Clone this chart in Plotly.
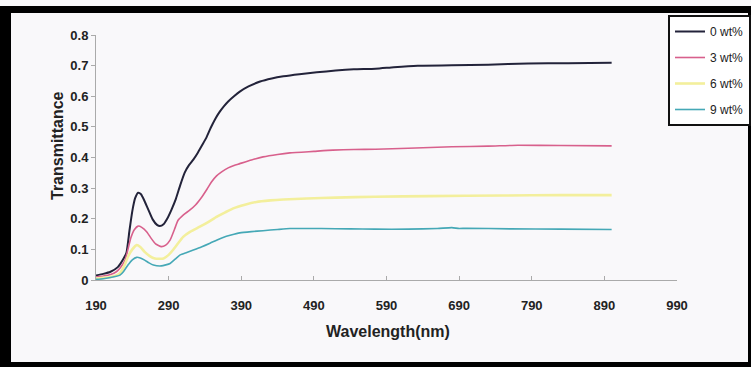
import plotly.graph_objects as go

# ---------------- data ----------------
wl_0 = [190, 200, 210, 220, 228, 232, 236, 240, 244, 248, 252, 256, 262, 268, 274, 278, 283, 288, 294, 300,
        306, 312, 318, 324, 330, 336, 342, 348, 354, 360, 366, 372, 380, 388, 400, 416, 432, 448, 470, 494,
        520, 545, 575, 600, 633, 680, 730, 785, 840, 900]
t_0 = [0.015, 0.02, 0.027, 0.042, 0.07, 0.09, 0.16, 0.225, 0.268, 0.285, 0.28, 0.262, 0.23, 0.198, 0.18, 0.176,
       0.182, 0.2, 0.23, 0.265, 0.31, 0.35, 0.375, 0.393, 0.415, 0.44, 0.465, 0.497, 0.525, 0.548, 0.567, 0.583,
       0.6, 0.615, 0.632, 0.648, 0.658, 0.665, 0.672, 0.678, 0.684, 0.688, 0.69, 0.695, 0.70, 0.701, 0.703,
       0.707, 0.708, 0.709]

wl_3 = [190, 200, 210, 218, 224, 230, 234, 238, 243, 248, 253, 260, 266, 272, 280, 286, 292, 298, 303, 310,
        319, 327, 336, 343, 349, 356, 363, 372, 380, 388, 404, 420, 440, 457, 490, 516, 545, 575, 620, 680,
        730, 771, 830, 900]
t_3 = [0.01, 0.013, 0.018, 0.027, 0.042, 0.065, 0.1, 0.138, 0.165, 0.176, 0.172, 0.157, 0.136, 0.118, 0.109,
       0.114, 0.13, 0.165, 0.195, 0.212, 0.228, 0.245, 0.272, 0.297, 0.32, 0.34, 0.353, 0.366, 0.374, 0.38,
       0.392, 0.402, 0.41, 0.415, 0.42, 0.424, 0.426, 0.427, 0.43, 0.435, 0.437, 0.44, 0.439, 0.438]

wl_6 = [190, 200, 210, 218, 223, 228, 234, 240, 246, 251, 257, 264, 271, 283, 290, 296, 303, 310, 320, 333,
        345, 356, 368, 379, 395, 411, 430, 448, 480, 520, 574, 650, 750, 830, 900]
t_6 = [0.005, 0.007, 0.01, 0.015, 0.022, 0.042, 0.076, 0.1, 0.114, 0.108, 0.092, 0.078, 0.07, 0.07, 0.082,
       0.098, 0.12, 0.141, 0.158, 0.174, 0.19, 0.206, 0.221, 0.234, 0.246, 0.255, 0.26, 0.263, 0.266, 0.269,
       0.272, 0.274, 0.276, 0.277, 0.277]

wl_9 = [190, 200, 210, 218, 223, 228, 234, 240, 246, 251, 257, 263, 269, 280, 292, 299, 306, 315, 324, 335,
        347, 356, 365, 376, 388, 404, 420, 440, 457, 500, 540, 574, 620, 660, 680, 690, 700, 760, 830, 900]
t_9 = [0.002, 0.004, 0.008, 0.012, 0.016, 0.028, 0.049, 0.066, 0.074, 0.072, 0.065, 0.056, 0.049, 0.046,
       0.054, 0.068, 0.082, 0.09, 0.098, 0.108, 0.12, 0.13, 0.139, 0.147, 0.154, 0.158, 0.161, 0.165, 0.168,
       0.168, 0.167, 0.166, 0.166, 0.168, 0.171, 0.168, 0.169, 0.167, 0.166, 0.165]

series_names = ["0 wt%", "3 wt%", "6 wt%", "9 wt%"]
x_tick_vals = [190, 290, 390, 490, 590, 690, 790, 890, 990]
y_tick_vals = [0, 0.1, 0.2, 0.3, 0.4, 0.5, 0.6, 0.7, 0.8]
y_tick_text = ["0", "0.1", "0.2", "0.3", "0.4", "0.5", "0.6", "0.7", "0.8"]

# ---------------- figure ----------------
colors = ["#23233a", "#d8608c", "#f3ef9c", "#45a8b6"]
widths = [2.0, 1.6, 2.6, 1.6]
xs = [wl_0, wl_3, wl_6, wl_9]
ys = [t_0, t_3, t_6, t_9]

fig = go.Figure()
for name, x, y, c, w in zip(series_names, xs, ys, colors, widths):
    fig.add_trace(go.Scatter(x=x, y=y, mode="lines", name=name, legendgroup=name,
                             line=dict(color=c, width=w, shape="spline", smoothing=0.5)))

W, H = 751, 367
L, R, T, B = 96, 74, 35, 87
pw, ph = W - L - R, H - T - B


def px(x):
    return (x - L) / pw


def py(y):
    return (H - B - y) / ph


tick_font = dict(family="Liberation Sans, Arial", size=13, color="#222222", weight="bold")
bg = "#f9f8fa"

fig.update_layout(
    width=W, height=H,
    margin=dict(l=L, r=R, t=T, b=B, autoexpand=False),
    paper_bgcolor=bg, plot_bgcolor=bg,
    showlegend=True,
    legend=dict(x=px(668), y=py(15), xanchor="left", yanchor="top",
                bgcolor="#ffffff", bordercolor="#111111", borderwidth=2,
                font=dict(family="Liberation Sans, Arial", size=12, color="#222222"),
                traceorder="grouped", tracegroupgap=7, itemwidth=30),
    xaxis=dict(range=[190, 990], tickvals=x_tick_vals, ticks="inside", ticklen=4,
               tickcolor="#aaaaaa", showline=True, linecolor="#aaaaaa", linewidth=1,
               showgrid=False, zeroline=False, tickfont=tick_font, ticklabelstandoff=13,
               automargin=False),
    yaxis=dict(range=[0, 0.8], tickvals=y_tick_vals, ticktext=y_tick_text, ticks="outside", ticklen=4,
               tickcolor="#aaaaaa", showline=True, linecolor="#aaaaaa", linewidth=1,
               showgrid=False, zeroline=False, tickfont=tick_font, automargin=False),
    font=dict(family="Liberation Sans, Arial", color="#222222"),
)

# axis titles as annotations
fig.add_annotation(text="<b>Wavelength(nm)</b>", xref="paper", yref="paper",
                   x=px(388), y=py(342), showarrow=False,
                   font=dict(family="Liberation Sans, Arial", size=16, color="#222222"))
fig.add_annotation(text="<b>Transmittance</b>", xref="paper", yref="paper",
                   x=px(46.5), y=py(146), showarrow=False, textangle=-90,
                   font=dict(family="Liberation Sans, Arial", size=16, color="#222222"))

# black frame around the picture
frame = dict(type="rect", xref="paper", yref="paper", fillcolor="#000000", line=dict(width=0), layer="above")
fig.add_shape(**frame, x0=px(0), x1=px(W), y0=py(13), y1=py(6))
fig.add_shape(**frame, x0=px(0), x1=px(11), y0=py(H), y1=py(6))
fig.add_shape(**frame, x0=px(0), x1=px(W), y0=py(H), y1=py(362))
fig.add_shape(**frame, x0=px(748), x1=px(W), y0=py(H), y1=py(6))

fig.write_html("out.html")
